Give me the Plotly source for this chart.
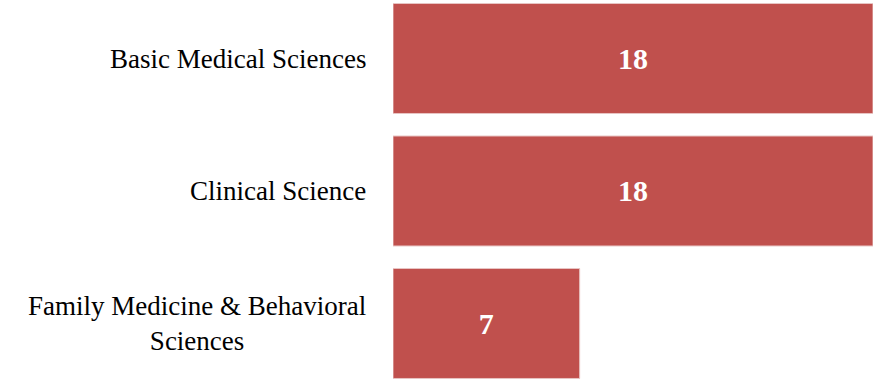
import plotly.graph_objects as go

categories = ["Basic Medical Sciences", "Clinical Science", "Family Medicine & Behavioral Sciences"]
label_text = ["Basic Medical Sciences", "Clinical Science", "Family Medicine & Behavioral<br>Sciences"]
values = [18, 18, 7]

fig = go.Figure()
fig.add_trace(go.Bar(
    x=values,
    y=categories,
    orientation="h",
    marker=dict(color="#C0504D", line=dict(color="#E8C4C3", width=1)),
    text=[str(v) for v in values],
    textposition="inside",
    insidetextanchor="middle",
    textangle=0,
    textfont=dict(family="Liberation Serif", size=30, color="white", weight="bold"),
    hoverinfo="skip",
))

for cat, lab in zip(categories, label_text):
    fig.add_annotation(
        x=0, xref="paper", y=cat, yref="y",
        text=lab, showarrow=False,
        xanchor="right", yanchor="middle", align="center",
        xshift=-25,
        font=dict(family="Liberation Serif", size=27, color="black"),
    )

fig.update_layout(
    width=875, height=381,
    margin=dict(l=393, r=2, t=0, b=0),
    paper_bgcolor="white", plot_bgcolor="white",
    bargap=0.17,
    showlegend=False,
    xaxis=dict(range=[0, 18], visible=False, fixedrange=True),
    yaxis=dict(type="category", range=[2.434, -0.4415], showticklabels=False,
               showgrid=False, zeroline=False, showline=False, ticks=""),
)

fig.write_html(
    "out.html",
    config={"displayModeBar": False, "staticPlot": True},
    post_script="document.body.style.margin='0';document.body.style.overflow='hidden';",
)
